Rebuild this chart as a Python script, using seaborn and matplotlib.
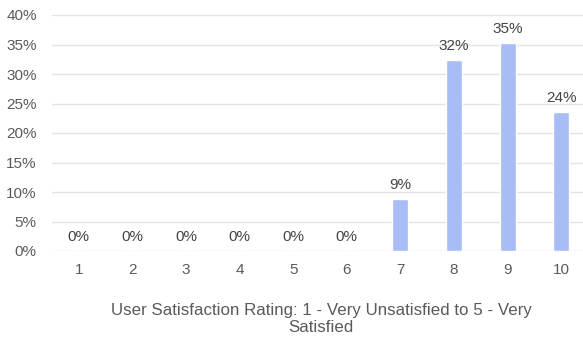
import matplotlib
matplotlib.use("Agg")
import matplotlib.pyplot as plt
import seaborn as sns
import pandas as pd
from matplotlib.ticker import FuncFormatter

ratings = ["1", "2", "3", "4", "5", "6", "7", "8", "9", "10"]
shares = [0, 0, 0, 0, 0, 0, 8.8, 32.4, 35.3, 23.5]
bar_labels = ["0%", "0%", "0%", "0%", "0%", "0%", "9%", "32%", "35%", "24%"]
x_title = "User Satisfaction Rating: 1 - Very Unsatisfied to 5 - Very\nSatisfied"

sns.set_theme(style="white")
plt.rcParams["font.family"] = ["Liberation Sans", "DejaVu Sans"]

text_color = "#5a5a5a"
bar_color = "#a8bcf6"

df = pd.DataFrame({"rating": ratings, "share": shares})

fig = plt.figure(figsize=(5.83, 3.38), dpi=100)
ax = fig.add_axes([52 / 583, 1 - 251 / 338, 536 / 583, 236 / 338])

sns.barplot(data=df, x="rating", y="share", color=bar_color, width=0.3,
            saturation=1, ax=ax, order=ratings)

ax.set_ylim(0, 40)
ax.set_yticks(range(0, 41, 5))
ax.yaxis.set_major_formatter(FuncFormatter(lambda v, _: f"{v:.0f}%"))
ax.grid(axis="y", color="#e4e4e4", linewidth=1)
ax.set_axisbelow(True)
for s in ax.spines.values():
    s.set_visible(False)

ax.tick_params(axis="both", length=0, labelsize=11, colors=text_color)
ax.tick_params(axis="y", pad=11)
ax.tick_params(axis="x", pad=9)

ax.bar_label(ax.containers[0], labels=bar_labels, padding=5, fontsize=11,
             color="#444444")

ax.set_ylabel("")
ax.set_xlabel(x_title, fontsize=12.2, color=text_color, linespacing=1.15)
ax.xaxis.set_label_coords((321 - 52) / 536, (251 - 303) / 236,
                          transform=ax.transAxes)
ax.xaxis.label.set_va("top")

fig.savefig("out.png", dpi=100)
